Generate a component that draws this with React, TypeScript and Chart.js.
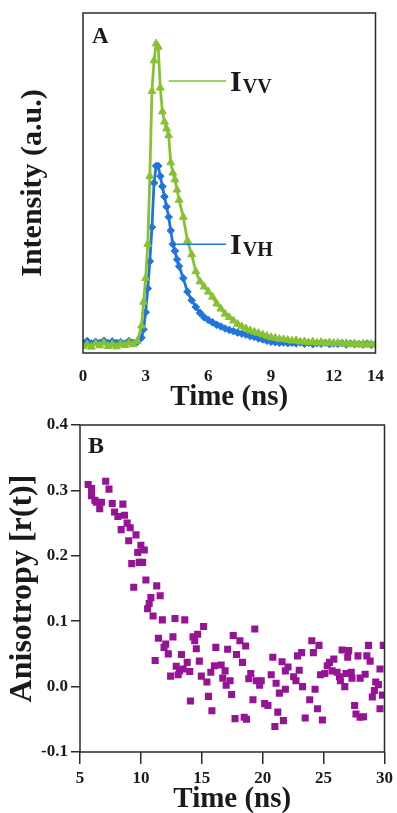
import React, { useEffect, useRef } from "react";
import { Chart, registerables } from "chart.js";

Chart.register(...registerables);

// ---------- Panel A data ----------
const timeA = [
  0, 0.2, 0.4, 0.6, 0.8, 1.0, 1.2, 1.4, 1.6, 1.8, 2.0, 2.2, 2.4, 2.6, 2.8,
  2.9, 3.0, 3.1, 3.2, 3.3, 3.4, 3.5, 3.6, 3.7, 3.8, 3.9, 4.0, 4.1, 4.2, 4.3, 4.4, 4.5, 4.6,
  4.8, 5.0, 5.2, 5.4, 5.6, 5.8, 6.0, 6.2, 6.4, 6.6, 6.8, 7.0, 7.2, 7.4, 7.6, 7.8, 8.0,
  8.2, 8.4, 8.6, 8.8, 9.0, 9.2, 9.4, 9.6, 9.8, 10.0, 10.2, 10.4, 10.6, 10.8, 11.0, 11.2,
  11.4, 11.6, 11.8, 12.0, 12.2, 12.4, 12.6, 12.8, 13.0, 13.2, 13.4, 13.6, 13.8, 14.0,
];

const intensityVV = [
  0.020, 0.025, 0.018, 0.028, 0.022, 0.030, 0.020, 0.026, 0.019, 0.027, 0.023, 0.030, 0.025, 0.035, 0.080,
  0.15, 0.22, 0.32, 0.52, 0.77, 0.86, 0.91, 0.90, 0.78, 0.71, 0.68, 0.66, 0.64, 0.56, 0.53, 0.51, 0.48, 0.45,
  0.40, 0.33, 0.29, 0.24, 0.21, 0.195, 0.18, 0.165, 0.145, 0.13,
  0.115, 0.105, 0.095, 0.085, 0.078, 0.072, 0.066, 0.062, 0.058, 0.054,
  0.050, 0.046, 0.044, 0.041, 0.040, 0.038, 0.036,
  0.037, 0.033, 0.034, 0.031, 0.033, 0.030, 0.032, 0.028, 0.031, 0.029,
  0.030, 0.027, 0.029, 0.026, 0.028, 0.025, 0.027, 0.024, 0.026, 0.025,
];

const intensityVH = [
  0.030, 0.035, 0.028, 0.033, 0.030, 0.036, 0.029, 0.034, 0.030, 0.032, 0.028, 0.035, 0.030, 0.033, 0.045,
  0.07, 0.12, 0.19, 0.27, 0.37, 0.50, 0.55, 0.55, 0.52, 0.49, 0.46, 0.43, 0.40, 0.36, 0.32, 0.30, 0.275, 0.255,
  0.22, 0.18, 0.155, 0.135, 0.118, 0.105, 0.097, 0.090, 0.083, 0.078,
  0.072, 0.068, 0.064, 0.060, 0.057, 0.054, 0.050, 0.047, 0.043, 0.040,
  0.036, 0.033, 0.032, 0.030, 0.031, 0.029, 0.030,
  0.028, 0.031, 0.027, 0.030, 0.026, 0.029, 0.027, 0.030, 0.026, 0.028,
  0.027, 0.029, 0.025, 0.028, 0.026, 0.027, 0.025, 0.028, 0.024, 0.026,
];

const xTicksA = [0, 3, 6, 9, 12, 14];

// annotation labels: [main letter, subscript, line start t, line end t, level]
const labelVV = ["I", "VV", 4.1, 6.85, 0.8];
const labelVH = ["I", "VH", 4.5, 6.85, 0.32];

// ---------- Panel B data ----------
const anisoTime = [
  5.67, 5.95, 5.95, 6.22, 6.35, 6.62, 6.76, 7.11, 7.38, 7.65, 7.84, 8.11, 8.38, 8.52, 8.65,
  8.87, 9.00, 9.12, 9.25, 9.41, 9.60, 9.74, 9.87, 10.00, 10.14, 10.28, 10.41, 10.55, 10.68,
  10.82, 11.00, 11.17, 11.30, 11.44, 11.58, 11.76, 11.90, 12.04, 12.25, 12.44, 12.63, 12.80,
  12.90, 13.06, 13.17, 13.33, 13.47, 13.60, 13.80, 14.01, 14.07, 14.28, 14.42, 14.55, 14.66,
  14.80, 14.96, 15.15, 15.42, 15.55, 15.74, 15.83, 16.04, 16.15, 16.59, 16.72, 16.91, 17.00,
  17.12, 17.32, 17.45, 17.58, 17.73, 17.85, 18.13, 18.34, 18.48, 18.60, 18.67, 18.86, 19.02,
  19.20, 19.35, 19.48, 19.75, 19.88, 20.16, 20.43, 20.70, 20.83, 21.00, 21.10, 21.24, 21.37,
  21.59, 21.70, 21.86, 21.86, 22.08, 22.54, 22.73, 22.86, 23.00, 23.20, 23.27, 23.49, 23.86,
  24.03, 24.16, 24.30, 24.50, 24.62, 24.75, 24.90, 25.10, 25.30, 25.48, 25.70, 25.84, 26.11,
  26.30, 26.38, 26.52, 26.74, 26.84, 26.98, 27.06, 27.27, 27.33, 27.55, 27.66, 27.82, 28.00,
  28.00, 28.28, 28.41, 28.55, 28.69, 28.82, 29.00, 29.17, 29.28, 29.50, 29.63, 29.63, 29.83,
  29.90,
];

const anisoValue = [
  0.309, 0.303, 0.292, 0.285, 0.282, 0.272, 0.282, 0.314, 0.302, 0.280, 0.267, 0.260, 0.240, 0.279, 0.262,
  0.250, 0.223, 0.243, 0.188, 0.152, 0.232, 0.205, 0.190, 0.216, 0.190, 0.209, 0.163, 0.119, 0.127,
  0.136, 0.108, 0.040, 0.154, 0.074, 0.139, 0.102, 0.060, 0.065, 0.050, 0.016, 0.076, 0.104,
  0.031, 0.018, 0.024, 0.049, 0.027, 0.102, 0.037, 0.023, -0.022, 0.076, 0.070, 0.058, 0.080,
  0.039, 0.016, 0.092, 0.007, -0.015, 0.022, -0.037, 0.032, 0.060, 0.033, 0.013, 0.024, 0.002,
  0.057, 0.009, -0.012, 0.078, -0.049, 0.049, 0.070, 0.037, -0.047, 0.062, -0.050, 0.012, 0.020,
  -0.020, 0.088, 0.009, 0.002, 0.009, -0.026, -0.029, 0.018, 0.045, -0.061, 0.005, -0.039, -0.010,
  0.038, -0.052, 0.024, -0.004, 0.030, 0.015, 0.009, 0.047, 0.025, 0.052, 0.000, -0.048, -0.020,
  0.070, 0.052, -0.004, -0.034, 0.063, 0.018, -0.051, 0.020, 0.032, 0.037, 0.024, 0.042, 0.022,
  0.015, 0.009, 0.056, 0.000, 0.020, 0.045, 0.055, 0.022, 0.013, -0.029, -0.042, 0.047, 0.013,
  -0.047, -0.046, 0.019, 0.047, 0.063, 0.039, -0.016, -0.006, 0.007, 0.003, 0.027, -0.034, -0.013,
  0.063,
];

// ---------- styling ----------
const FONT = "'Liberation Serif', 'Times New Roman', serif";
const GREEN = "#86c232";
const BLUE = "#1f74e0";
const PURPLE = "#961396";
const INK = "#1a1a1a";

const boxPlugin = {
  id: "frameBox",
  afterDraw(chart: any) {
    const { ctx, chartArea: a } = chart;
    ctx.save();
    ctx.strokeStyle = "#2a2a2a";
    ctx.lineWidth = 1.5;
    ctx.strokeRect(a.left, a.top, a.right - a.left, a.bottom - a.top);
    ctx.restore();
  },
};

function panelLetter(letter: string, dx: number, dy: number, size: number) {
  return {
    id: "panelLetter" + letter,
    afterDraw(chart: any) {
      const { ctx, chartArea: a } = chart;
      ctx.save();
      ctx.fillStyle = INK;
      ctx.font = `bold ${size}px ${FONT}`;
      ctx.textBaseline = "alphabetic";
      ctx.textAlign = "left";
      ctx.fillText(letter, a.left + dx, a.top + dy);
      ctx.restore();
    },
  };
}

const curveLabels = {
  id: "curveLabels",
  afterDatasetsDraw(chart: any) {
    const { ctx } = chart;
    const xs = chart.scales.x;
    const ys = chart.scales.y;
    const items: [any[], string][] = [
      [labelVV, GREEN],
      [labelVH, BLUE],
    ];
    ctx.save();
    for (const [lab, color] of items) {
      const [main, sub, t0, t1, lvl] = lab;
      const x0 = xs.getPixelForValue(t0);
      const x1 = xs.getPixelForValue(t1);
      const y = ys.getPixelForValue(lvl);
      ctx.strokeStyle = color;
      ctx.lineWidth = 1.5;
      ctx.beginPath();
      ctx.moveTo(x0, y);
      ctx.lineTo(x1, y);
      ctx.stroke();
      ctx.fillStyle = INK;
      ctx.textAlign = "left";
      ctx.textBaseline = "alphabetic";
      ctx.font = `bold 30px ${FONT}`;
      const tx = x1 + 4;
      ctx.fillText(main, tx, y + 10);
      const w = ctx.measureText(main).width;
      ctx.font = `bold 20px ${FONT}`;
      ctx.fillText(sub, tx + w + 1, y + 12);
    }
    ctx.restore();
  },
};

function PanelA() {
  const ref = useRef<HTMLCanvasElement>(null);
  useEffect(() => {
    if (!ref.current) return;
    const chart = new Chart(ref.current, {
      type: "scatter",
      data: {
        datasets: [
          {
            label: "IVV",
            data: timeA.map((t, i) => ({ x: t, y: intensityVV[i] })),
            showLine: true,
            borderColor: GREEN,
            backgroundColor: GREEN,
            borderWidth: 2.8,
            pointStyle: "triangle",
            pointRadius: 4.5,
            pointBorderWidth: 1,
            tension: 0,
          },
          {
            label: "IVH",
            data: timeA.map((t, i) => ({ x: t, y: intensityVH[i] })),
            showLine: true,
            borderColor: BLUE,
            backgroundColor: BLUE,
            borderWidth: 2.8,
            pointStyle: "rectRot",
            pointRadius: 3.8,
            pointBorderWidth: 1,
            tension: 0,
          },
        ],
      },
      options: {
        responsive: false,
        animation: false,
        events: [],
        layout: { padding: { top: 13, right: 9, left: 0, bottom: 5 } },
        plugins: { legend: { display: false }, tooltip: { enabled: false } },
        scales: {
          x: {
            type: "linear",
            min: 0,
            max: 14,
            afterBuildTicks: (s: any) => {
              s.ticks = xTicksA.map((v) => ({ value: v }));
            },
            afterFit: (s: any) => {
              s.height = 62;
            },
            grid: { display: false, drawTicks: false },
            border: { display: false },
            ticks: {
              autoSkip: false,
              maxRotation: 0,
              padding: 13,
              color: INK,
              font: { family: FONT, size: 17, weight: "bold" },
            },
            title: {
              display: true,
              text: "Time (ns)",
              color: INK,
              padding: { top: 0, bottom: 0 },
              font: { family: FONT, size: 29, weight: "bold" },
            },
          },
          y: {
            type: "linear",
            min: 0,
            max: 1,
            afterFit: (s: any) => {
              s.width = 83;
            },
            grid: { display: false, drawTicks: false },
            border: { display: false },
            ticks: { display: false },
            title: {
              display: true,
              text: "Intensity (a.u.)",
              color: INK,
              padding: { top: 15, bottom: 0 },
              font: { family: FONT, size: 30, weight: "bold" },
            },
          },
        },
      },
      plugins: [boxPlugin, panelLetter("A", 9, 30, 23), curveLabels],
    } as any);
    return () => chart.destroy();
  }, []);
  return (
    <canvas
      ref={ref}
      width={397}
      height={420}
      style={{ position: "absolute", left: 0, top: 0, width: 397, height: 420 }}
    />
  );
}

function PanelB() {
  const ref = useRef<HTMLCanvasElement>(null);
  useEffect(() => {
    if (!ref.current) return;
    const chart = new Chart(ref.current, {
      type: "scatter",
      data: {
        datasets: [
          {
            label: "r(t)",
            data: anisoTime.map((t, i) => ({ x: t, y: anisoValue[i] })),
            showLine: false,
            backgroundColor: PURPLE,
            borderColor: PURPLE,
            pointStyle: "rect",
            pointRadius: 5,
            pointBorderWidth: 0,
          },
        ],
      },
      options: {
        responsive: false,
        animation: false,
        events: [],
        layout: { padding: { top: 20, right: 9, left: 0, bottom: 8 } },
        plugins: { legend: { display: false }, tooltip: { enabled: false } },
        scales: {
          x: {
            type: "linear",
            min: 5,
            max: 30,
            afterFit: (s: any) => {
              s.height = 65;
            },
            grid: {
              display: true,
              drawOnChartArea: false,
              drawTicks: true,
              tickLength: 12,
              color: "#2a2a2a",
              lineWidth: 1.5,
            },
            border: { display: false },
            ticks: {
              stepSize: 5,
              autoSkip: false,
              maxRotation: 0,
              padding: 4,
              color: INK,
              font: { family: FONT, size: 17, weight: "bold" },
            },
            title: {
              display: true,
              text: "Time (ns)",
              color: INK,
              padding: { top: 0, bottom: 0 },
              font: { family: FONT, size: 29, weight: "bold" },
            },
          },
          y: {
            type: "linear",
            min: -0.1,
            max: 0.4,
            afterFit: (s: any) => {
              s.width = 80;
            },
            grid: {
              display: true,
              drawOnChartArea: false,
              drawTicks: true,
              tickLength: 9,
              color: "#2a2a2a",
              lineWidth: 1.5,
            },
            border: { display: false },
            ticks: {
              stepSize: 0.1,
              padding: 3,
              color: INK,
              font: { family: FONT, size: 17, weight: "bold" },
              callback: (v: any) => Number(v).toFixed(1),
            },
            title: {
              display: true,
              text: "Anisotropy [r(t)]",
              color: INK,
              padding: { top: 4, bottom: 0 },
              font: { family: FONT, size: 32, weight: "bold" },
            },
          },
        },
      },
      plugins: [boxPlugin, panelLetter("B", 8, 28, 24)],
    } as any);
    return () => chart.destroy();
  }, []);
  return (
    <canvas
      ref={ref}
      width={397}
      height={420}
      style={{ position: "absolute", left: 0, top: 405, width: 397, height: 420 }}
    />
  );
}

export default function App() {
  return (
    <div
      style={{
        position: "fixed",
        left: 0,
        top: 0,
        width: 397,
        height: 813,
        overflow: "hidden",
        background: "#ffffff",
      }}
    >
      <PanelA />
      <PanelB />
    </div>
  );
}
